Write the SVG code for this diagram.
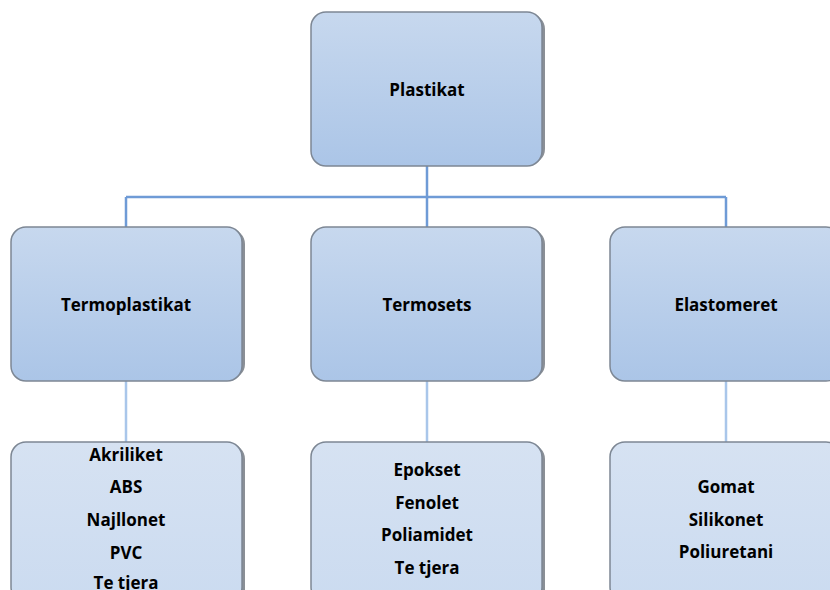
<svg xmlns="http://www.w3.org/2000/svg" width="830" height="590" viewBox="0 0 830 590">
<defs>
<linearGradient id="gMain" x1="0" y1="0" x2="0" y2="1">
<stop offset="0" stop-color="#c7d8ee"/>
<stop offset="1" stop-color="#abc5e7"/>
</linearGradient>
<linearGradient id="gLeaf" x1="0" y1="0" x2="0" y2="1">
<stop offset="0" stop-color="#d6e2f2"/>
<stop offset="1" stop-color="#cbdbf0"/>
</linearGradient>
</defs>
<style>
.shadow{fill:#8a8f96;}
.main{fill:url(#gMain);stroke:#7d8794;stroke-width:1.5;}
.leaf{fill:url(#gLeaf);stroke:#7d8794;stroke-width:1.5;}
.t{font-family:"Open Sans","Liberation Sans",sans-serif;font-weight:bold;font-size:17px;fill:#000;text-anchor:middle;}
.c1{stroke:#6f9bd6;stroke-width:2.5;fill:none;}
.c2{stroke:#a9c6ea;stroke-width:2.5;fill:none;}
</style>
<g id="connectors">
<path class="c1" d="M427,166 V197 M126,197 H726 M126,197 V227 M427,197 V227 M726,197 V227"/>
<path class="c2" d="M126,381 V442 M427,381 V442 M726,381 V442"/>
</g>
<g id="plastikat">
<rect class="shadow" x="314" y="14" width="231" height="150" rx="15"/>
<rect class="main" x="311" y="12" width="231" height="154" rx="15"/>
<text class="t" x="427" y="96">Plastikat</text>
</g>
<g id="termoplastikat">
<rect class="shadow" x="14" y="229" width="231" height="150" rx="15"/>
<rect class="main" x="11" y="227" width="231" height="154" rx="15"/>
<text class="t" x="126" y="311">Termoplastikat</text>
</g>
<g id="termosets">
<rect class="shadow" x="314" y="229" width="231" height="150" rx="15"/>
<rect class="main" x="311" y="227" width="231" height="154" rx="15"/>
<text class="t" x="427" y="311">Termosets</text>
</g>
<g id="elastomeret">
<rect class="shadow" x="613" y="229" width="231" height="150" rx="15"/>
<rect class="main" x="610" y="227" width="231" height="154" rx="15"/>
<text class="t" x="726" y="311">Elastomeret</text>
</g>
<g id="termoplastikat-list">
<rect class="shadow" x="14" y="444" width="231" height="160" rx="15"/>
<rect class="leaf" x="11" y="442" width="231" height="160" rx="15"/>
<text class="t" x="126" y="461">Akriliket</text>
<text class="t" x="126" y="493">ABS</text>
<text class="t" x="126" y="526">Najllonet</text>
<text class="t" x="126" y="559">PVC</text>
<text class="t" x="126" y="589">Te tjera</text>
</g>
<g id="termosets-list">
<rect class="shadow" x="314" y="444" width="231" height="160" rx="15"/>
<rect class="leaf" x="311" y="442" width="231" height="160" rx="15"/>
<text class="t" x="427" y="476">Epokset</text>
<text class="t" x="427" y="509">Fenolet</text>
<text class="t" x="427" y="541">Poliamidet</text>
<text class="t" x="427" y="574">Te tjera</text>
</g>
<g id="elastomeret-list">
<rect class="shadow" x="613" y="444" width="231" height="160" rx="15"/>
<rect class="leaf" x="610" y="442" width="231" height="160" rx="15"/>
<text class="t" x="726" y="493">Gomat</text>
<text class="t" x="726" y="526">Silikonet</text>
<text class="t" x="726" y="558">Poliuretani</text>
</g>
</svg>
